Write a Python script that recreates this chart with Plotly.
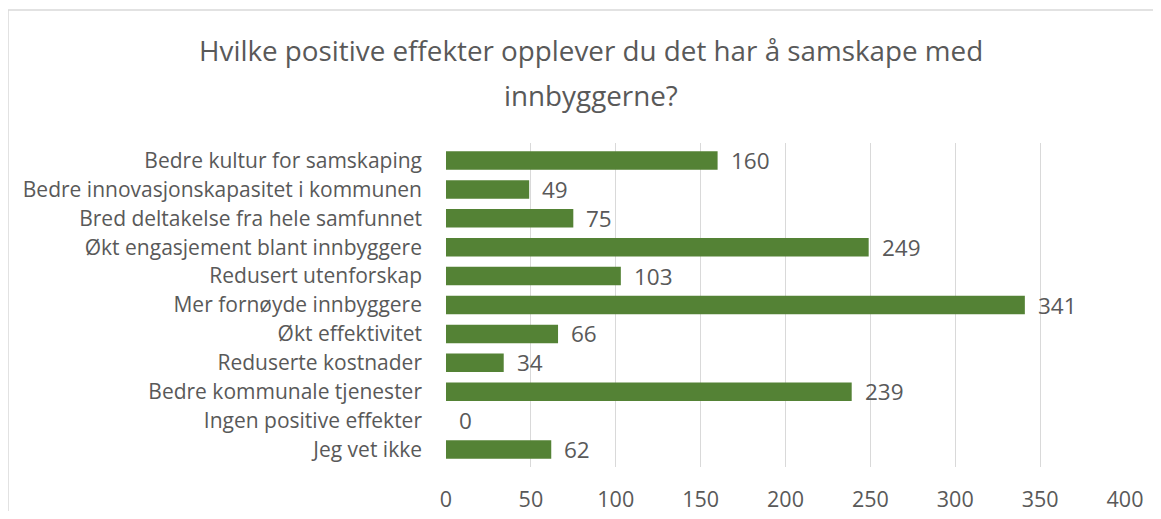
import plotly.graph_objects as go

categories = [
    "Bedre kultur for samskaping",
    "Bedre innovasjonskapasitet i kommunen",
    "Bred deltakelse fra hele samfunnet",
    "Økt engasjement blant innbyggere",
    "Redusert utenforskap",
    "Mer fornøyde innbyggere",
    "Økt effektivitet",
    "Reduserte kostnader",
    "Bedre kommunale tjenester",
    "Ingen positive effekter",
    "Jeg vet ikke",
]
values = [160, 49, 75, 249, 103, 341, 66, 34, 239, 0, 62]
tick_vals = [0, 50, 100, 150, 200, 250, 300, 350, 400]
title_lines = ["Hvilke positive effekter opplever du det har å samskape med", "innbyggerne?"]

GREEN = "#548235"
TXT = "#595959"
FONT = "Open Sans"

# target page positions of the plot area; the page body has an 8px margin,
# so the figure is sized to fit inside the window without overflow
PL, PR, PT, PB = 446, 1125, 143, 467
OFF = 8
W, H = 1161 - 2 * OFF, 519 - 2 * OFF

fig = go.Figure()
fig.add_trace(go.Bar(
    x=values, y=categories, orientation="h",
    marker=dict(color=GREEN, line=dict(width=0)),
    hoverinfo="x+y",
))

for c, v in zip(categories, values):
    fig.add_annotation(x=v, y=c, text=str(v), showarrow=False,
                       xanchor="left", xshift=11,
                       font=dict(family=FONT, size=22.5, color=TXT))

for i, line in enumerate(title_lines):
    fig.add_annotation(xref="paper", yref="paper", x=(591 - PL) / (PR - PL),
                       y=(PB - (50 + 45 * i)) / (PB - PT), text=line, showarrow=False,
                       xanchor="center", yanchor="middle",
                       font=dict(family=FONT, size=27.8, color=TXT))

fig.update_layout(
    width=W, height=H,
    margin=dict(l=PL - OFF, r=W + OFF - PR, t=PT - OFF, b=H + OFF - PB),
    paper_bgcolor="white", plot_bgcolor="white",
    bargap=0.36,
    showlegend=False,
    font=dict(family=FONT, color=TXT),
)
fig.update_xaxes(range=[0, 400], tickvals=tick_vals, showgrid=True,
                 gridcolor="#d9d9d9", gridwidth=1.3, zeroline=False,
                 showline=False, ticks="", ticklabelstandoff=17, automargin=False,
                 tickfont=dict(family=FONT, size=21.5, color=TXT))
fig.update_yaxes(autorange="reversed", showgrid=False, zeroline=False,
                 showline=False, ticks="", ticklabelstandoff=23, automargin=False,
                 tickfont=dict(family=FONT, size=21, color=TXT))

fig.add_shape(type="rect", xref="paper", yref="paper",
              x0=(8 - PL) / (PR - PL), x1=1.2, y0=-0.5, y1=(PB - 10) / (PB - PT),
              line=dict(color="#d9d9d9", width=1.5), fillcolor="rgba(0,0,0,0)",
              layer="below")

fig.write_html("out.html")
